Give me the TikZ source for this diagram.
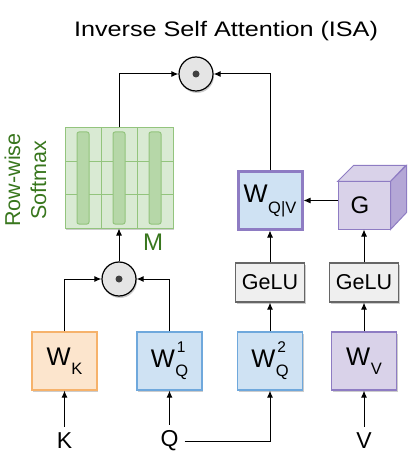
\documentclass[tikz,border=0pt]{standalone}
\usepackage{fontspec}
\setmainfont{Liberation Sans}
\newfontfamily\titlefont[FakeStretch=1.2]{Liberation Sans}
\usetikzlibrary{arrows.meta,shadows}

\definecolor{kfill}{HTML}{FCE5CD}
\definecolor{kline}{HTML}{F6B26B}
\definecolor{qfill}{HTML}{CFE2F3}
\definecolor{qline}{HTML}{6FA8DC}
\definecolor{vfill}{HTML}{D9D2E9}
\definecolor{vline}{HTML}{8E7CC3}
\definecolor{vside}{HTML}{B4A7D6}
\definecolor{mfill}{HTML}{D9EAD3}
\definecolor{mline}{HTML}{93C47D}
\definecolor{mbar}{HTML}{B6D7A8}
\definecolor{mtext}{HTML}{38761D}
\definecolor{gfill}{HTML}{EFEFEF}
\definecolor{gline}{HTML}{666666}

% W with a lowered subscript and an optional raised superscript
\newcommand{\wname}[3][9pt]{W\kern0.5pt\makebox[0pt][l]{\raisebox{-#1}{\fontsize{16.5}{17}\selectfont #2}}%
  \makebox[0pt][l]{\raisebox{15pt}{\fontsize{15.5}{16}\selectfont\kern1.5pt #3}}%
  \phantom{\fontsize{16.5}{17}\selectfont #2}}

\begin{document}
\begin{tikzpicture}[x=1pt, y=-1pt, >={Latex[length=7pt,width=6pt]},
  shade/.style={drop shadow={shadow xshift=1pt, shadow yshift=-2pt, opacity=0.2, fill=black}},
  weight/.style={draw, line width=1.2pt, minimum width=65pt, minimum height=58pt, inner sep=0pt,
    font=\fontsize{25.5}{30}\selectfont, shade},
  gelubox/.style={draw=gline, fill=gfill, line width=1.2pt, minimum width=69pt, minimum height=39pt,
    inner sep=0pt, font=\fontsize{21.5}{25}\selectfont, shade},
  dotnode/.style={circle, draw, line width=1.2pt, fill=gray!20, minimum size=34pt, inner sep=0pt, shade},
  inlabel/.style={font=\fontsize{23}{27}\selectfont, inner sep=6pt},
  wire/.style={line width=1pt, ->}]
\useasboundingbox (0,0) rectangle (414,462);
% title
\node[font=\titlefont\fontsize{21}{26}\selectfont] (title) at (226,31) {Inverse Self Attention (ISA)};
% inputs
\node[inlabel] (k) at (64.5,441) {K};
\node[inlabel] (q) at (169.5,441) {Q};
\node[inlabel] (v) at (364,441) {V};
% projections
\node[weight, draw=kline, fill=kfill] (wk) at (64.5,361) {\wname{K}{}};
\node[weight, draw=qline, fill=qfill] (wq1) at (169.5,361) {\wname{Q}{1}};
\node[weight, draw=qline, fill=qfill] (wq2) at (270,361) {\wname{Q}{2}};
\node[weight, draw=vline, fill=vfill] (wv) at (364,361) {\wname{V}{}};
\node[gelubox] (gelu1) at (270,282.5) {GeLU};
\node[gelubox] (gelu2) at (364,282.5) {GeLU};
\node[weight, draw=vline, fill=qfill, line width=3pt, minimum width=64pt, minimum height=57pt]
  (wqv) at (270,200.5) {\wname[11pt]{Q|V}{}};
% cube G
\node[draw=vline, fill=vfill, line width=1pt, minimum width=52pt, minimum height=47pt,
  font=\fontsize{24}{30}\selectfont] (g) at (364,205.5) {G\hspace*{8pt}};
\filldraw[draw=vline, fill=vfill, line width=1pt] (g.north west) -- ++(16,-16) -- ++(52,0)
  -- (g.north east) -- cycle;
\filldraw[draw=vline, fill=vside, line width=1pt] (g.north east) -- ++(16,-16) -- ++(0,47)
  -- (g.south east) -- cycle;
% attention matrix
\node[draw=mline, fill=mfill, line width=1pt, minimum width=108pt, minimum height=100pt,
  inner sep=0pt, shade] (m) at (119,178) {};
\foreach \x in {101,137}
  \draw[mline, line width=1pt] (\x,128) -- (\x,228);
\foreach \y in {161.3,194.7}
  \draw[mline, line width=1pt] (65,\y) -- (173,\y);
\foreach \x in {83,119,155}
  \draw[mline, fill=mbar, line width=1pt, rounded corners=2pt] (\x-6,132) rectangle (\x+6,224);
\node[text=mtext, font=\fontsize{24}{28}\selectfont] (mname) at (153,242) {M};
\node[rotate=90, align=center, text=mtext, font=\fontsize{21.5}{26}\selectfont] (softmax)
  at (25.5,180) {Row-wise\\Softmax};
% products
\node[dotnode] (dot1) at (196,74) {};
\node[dotnode] (dot2) at (119,279) {};
\fill[black!75] (dot1) circle (3.5);
\fill[black!75] (dot2) circle (3.5);
% wires
\draw[wire] (k) -- (wk);
\draw[wire] (q) -- (wq1);
\draw[wire] (q.east) -| (wq2.south);
\draw[wire] (v) -- (wv);
\draw[wire] (wq2) -- (gelu1);
\draw[wire] (wv) -- (gelu2);
\draw[wire] (gelu1) -- (wqv);
\draw[wire] (gelu2) -- (g);
\draw[wire] (g.west |- wqv) -- (wqv);
\draw[wire] (wk) |- (dot2);
\draw[wire] (wq1) |- (dot2);
\draw[wire] (dot2) -- (m);
\draw[wire] (m) |- (dot1);
\draw[wire] (wqv) |- (dot1);
\end{tikzpicture}
\end{document}
